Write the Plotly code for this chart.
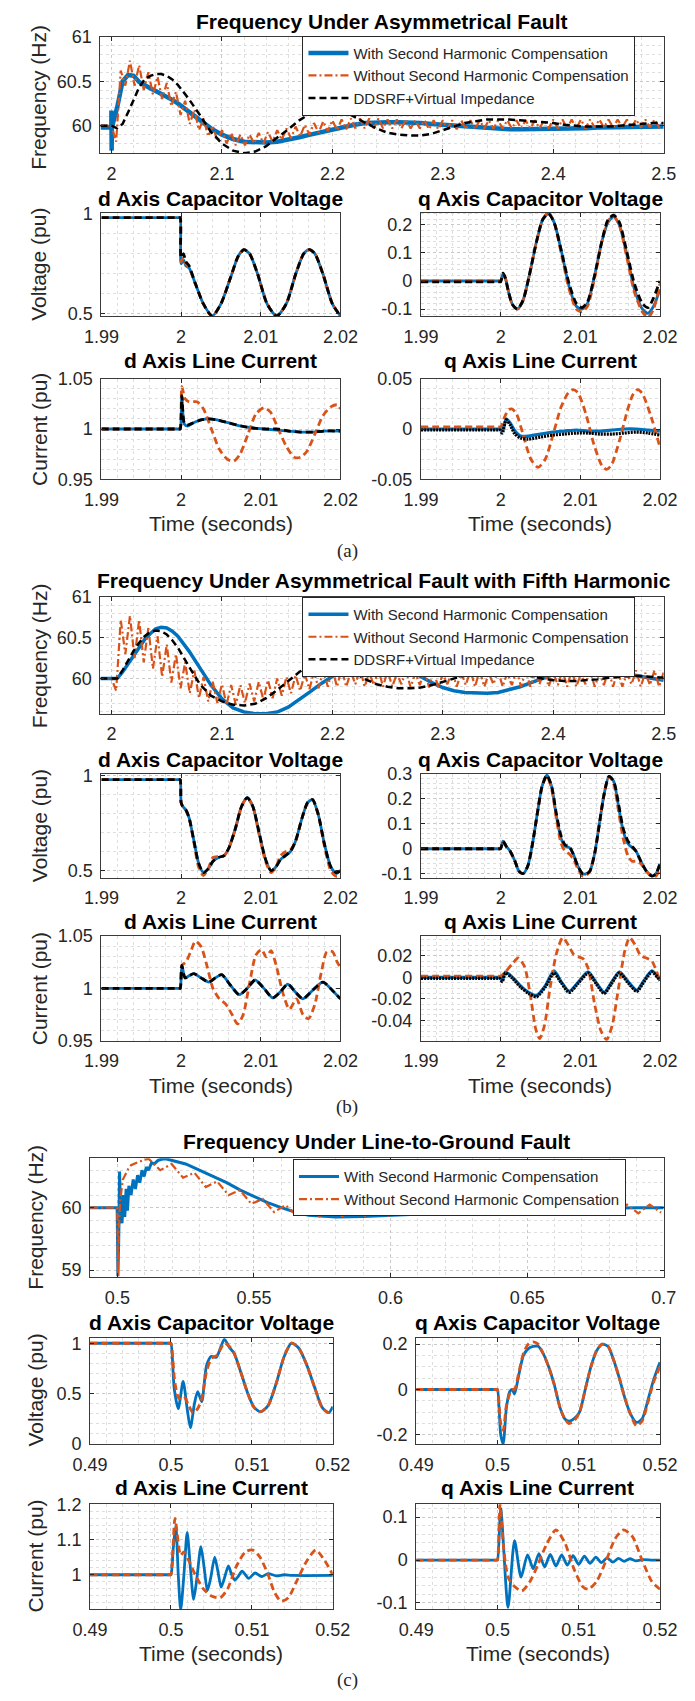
import plotly.graph_objects as go

BLUE = '#0072BD'
ORANGE = '#D95319'
BLACK = '#000000'
FONT = 'Liberation Sans, Arial, Helvetica, sans-serif'
TXT = '#262626'

# ---------------- Panel (a): asymmetrical fault ----------------
a_f_blue_t = [1.99, 1.9998, 1.9999, 2.0, 2.0001, 2.0003, 2.005, 2.01, 2.015, 2.02, 2.025, 2.03, 2.035, 2.04,
              2.045, 2.05, 2.055, 2.06, 2.07, 2.08, 2.09, 2.1, 2.11, 2.12, 2.13, 2.14, 2.15, 2.16, 2.17, 2.18,
              2.19, 2.2, 2.21, 2.22, 2.23, 2.24, 2.25, 2.26, 2.27, 2.28, 2.29, 2.3, 2.31, 2.32, 2.33, 2.34, 2.35,
              2.36, 2.37, 2.38, 2.39, 2.4, 2.41, 2.42, 2.43, 2.44, 2.45, 2.46, 2.47, 2.48, 2.49, 2.5]
a_f_blue = [59.98, 59.98, 60.17, 59.98, 59.72, 59.98, 60.2, 60.5, 60.57, 60.56, 60.49, 60.45, 60.42, 60.39,
            60.36, 60.33, 60.29, 60.25, 60.16, 60.06, 59.97, 59.9, 59.85, 59.82, 59.81, 59.81, 59.82, 59.84,
            59.87, 59.9, 59.93, 59.96, 59.99, 60.01, 60.03, 60.04, 60.04, 60.04, 60.04, 60.03, 60.02, 60.01,
            60.0, 59.99, 59.98, 59.97, 59.97, 59.96, 59.96, 59.96, 59.96, 59.96, 59.97, 59.97, 59.97, 59.98,
            59.98, 59.98, 59.99, 59.99, 59.99, 59.99]
# half-period (1/240 s) samples of the rippling orange trace, starting at 2.0 s
a_f_orange = [60.0, 59.82, 60.62, 60.45, 60.73, 60.45, 60.68, 60.4, 60.6, 60.35,
              60.55, 60.3, 60.48, 60.22, 60.38, 60.12, 60.28, 60.02, 60.18, 59.95,
              60.08, 59.88, 60.0, 59.83, 59.95, 59.8, 59.92, 59.78, 59.9, 59.78,
              59.9, 59.8, 59.92, 59.8, 59.93, 59.82, 59.95, 59.84, 59.97, 59.86,
              59.99, 59.88, 60.01, 59.9, 60.03, 59.92, 60.05, 59.94, 60.06, 59.95,
              60.07, 59.96, 60.08, 59.97, 60.08, 59.97, 60.08, 59.97, 60.08, 59.97,
              60.07, 59.97, 60.07, 59.97, 60.07, 59.97, 60.06, 59.97, 60.06, 59.96,
              60.06, 59.96, 60.06, 59.96, 60.06, 59.96, 60.06, 59.96, 60.06, 59.96,
              60.06, 59.97, 60.06, 59.97, 60.06, 59.97, 60.06, 59.97, 60.06, 59.97,
              60.06, 59.97, 60.06, 59.97, 60.06, 59.97, 60.07, 59.97, 60.07, 59.97,
              60.07, 59.97, 60.07, 59.97, 60.07, 59.98, 60.07, 59.98, 60.07, 59.98,
              60.07, 59.98, 60.07, 59.98, 60.07, 59.98, 60.07, 59.98, 60.07, 59.98,
              60.06]
f_grid_t = [1.99, 2.0, 2.005, 2.01, 2.015, 2.02, 2.025, 2.03, 2.035, 2.04, 2.045, 2.05, 2.055, 2.06, 2.07,
            2.08, 2.09, 2.1, 2.11, 2.12, 2.13, 2.14, 2.15, 2.16, 2.17, 2.18, 2.19, 2.2, 2.21, 2.22, 2.23,
            2.24, 2.25, 2.26, 2.27, 2.28, 2.29, 2.3, 2.31, 2.32, 2.33, 2.34, 2.35, 2.36, 2.37, 2.38, 2.39,
            2.4, 2.41, 2.42, 2.43, 2.44, 2.45, 2.46, 2.47, 2.48, 2.49, 2.5]
a_f_black = [60.0, 60.0, 59.97, 60.02, 60.15, 60.3, 60.43, 60.52, 60.56, 60.58, 60.58, 60.56, 60.52, 60.46,
             60.3, 60.12, 59.93, 59.8, 59.72, 59.69, 59.71, 59.77, 59.86, 59.96, 60.06, 60.14, 60.19, 60.19,
             60.16, 60.1, 60.03, 59.97, 59.92, 59.9, 59.89, 59.89, 59.91, 59.95, 59.99, 60.03, 60.05, 60.07,
             60.07, 60.07, 60.06, 60.05, 60.04, 60.03, 60.01, 60.0, 59.99, 59.99, 59.99, 60.0, 60.01, 60.02,
             60.03, 60.03]

a_dv_t = [1.99, 1.9998, 1.9999, 2.0, 2.0003, 2.0006, 2.001, 2.0018, 2.0028, 2.0039, 2.005, 2.0062, 2.0072,
          2.0079, 2.0086, 2.0096, 2.0108, 2.012, 2.0132, 2.0144, 2.0154, 2.0161, 2.0168, 2.0178, 2.019, 2.02]
a_dv_blue = [0.98, 0.98, 0.98, 0.75, 0.77, 0.74, 0.73, 0.65, 0.55, 0.49, 0.55, 0.68, 0.79, 0.82, 0.8, 0.7,
             0.55, 0.49, 0.55, 0.7, 0.8, 0.82, 0.8, 0.7, 0.55, 0.49]
a_dv_orange = [0.98, 0.98, 0.98, 0.76, 0.78, 0.75, 0.73, 0.65, 0.55, 0.488, 0.55, 0.68, 0.79, 0.82, 0.8, 0.7,
               0.55, 0.488, 0.55, 0.7, 0.8, 0.82, 0.8, 0.7, 0.55, 0.49]
a_dv_black = [0.98, 0.98, 0.98, 0.78, 0.8, 0.76, 0.74, 0.65, 0.55, 0.49, 0.55, 0.68, 0.79, 0.82, 0.8, 0.7,
              0.55, 0.49, 0.55, 0.7, 0.8, 0.82, 0.8, 0.7, 0.55, 0.49]

a_qv_t = [1.99, 1.9998, 2.0, 2.0003, 2.0006, 2.001, 2.0015, 2.0021, 2.0028, 2.0036, 2.0045, 2.0053, 2.006,
          2.0067, 2.0076, 2.0086, 2.0095, 2.0102, 2.0109, 2.0118, 2.0127, 2.0135, 2.0142, 2.0149, 2.0158,
          2.0168, 2.0178, 2.0185, 2.0192, 2.02]
a_qv_blue = [0.0, 0.0, 0.0, 0.025, 0.01, -0.04, -0.085, -0.1, -0.07, 0.02, 0.14, 0.22, 0.24, 0.21, 0.11, -0.02,
             -0.09, -0.1, -0.08, 0.02, 0.14, 0.21, 0.23, 0.2, 0.1, -0.03, -0.1, -0.115, -0.09, -0.03]
a_qv_orange = [0.0, 0.0, 0.0, 0.025, 0.01, -0.04, -0.085, -0.1, -0.07, 0.02, 0.14, 0.22, 0.245, 0.21, 0.1,
               -0.03, -0.1, -0.11, -0.09, 0.01, 0.14, 0.215, 0.23, 0.2, 0.09, -0.04, -0.11, -0.13, -0.1, -0.01]
a_qv_black = [-0.003, -0.003, -0.003, 0.028, 0.01, -0.04, -0.085, -0.1, -0.07, 0.02, 0.14, 0.22, 0.24, 0.21,
              0.11, -0.01, -0.08, -0.095, -0.075, 0.02, 0.14, 0.22, 0.235, 0.21, 0.11, -0.01, -0.08, -0.095,
              -0.06, 0.0]

a_di_t = [1.99, 1.9998, 1.9999, 2.0001, 2.0004, 2.0008, 2.0015, 2.0025, 2.0035, 2.0045, 2.006, 2.0075, 2.009,
          2.0105, 2.012, 2.0135, 2.015, 2.0165, 2.018, 2.02]
a_di_blue = [1.0, 1.0, 1.0, 1.032, 1.005, 1.003, 1.006, 1.009, 1.01, 1.009, 1.006, 1.003, 1.001, 1.0, 0.999,
             0.998, 0.997, 0.997, 0.998, 0.998]
a_di_black = [1.0, 1.0, 1.0, 1.033, 1.006, 1.004, 1.006, 1.009, 1.01, 1.009, 1.006, 1.003, 1.001, 1.0, 1.0,
              0.998, 0.997, 0.997, 0.998, 0.998]
a_di_or_t = [1.99, 1.9998, 1.9999, 2.0001, 2.0005, 2.001, 2.002, 2.0028, 2.0038, 2.0048, 2.0058, 2.0066, 2.0074,
             2.0084, 2.0094, 2.0104, 2.0112, 2.0122, 2.0132, 2.0142, 2.015, 2.0158, 2.0168, 2.0178, 2.0188,
             2.0196, 2.02]
a_di_orange = [1.0, 1.0, 1.0, 1.042, 1.03, 1.027, 1.027, 1.02, 1.0, 0.98, 0.97, 0.968, 0.975, 0.995, 1.015,
               1.021, 1.017, 1.0, 0.983, 0.972, 0.972, 0.978, 0.995, 1.013, 1.022, 1.024, 1.02]

a_qi_t = [1.99, 1.9998, 1.9999, 2.0002, 2.0007, 2.0012, 2.0018, 2.0025, 2.0035, 2.005, 2.0065, 2.008, 2.0095,
          2.011, 2.0125, 2.014, 2.0155, 2.017, 2.0185, 2.02]
a_qi_blue = [0.0, 0.0, 0.0, -0.002, 0.01, 0.006, -0.002, -0.007, -0.007, -0.005, -0.003, -0.002, -0.001,
             -0.002, -0.002, -0.001, 0.0, 0.0, -0.001, -0.002]
a_qi_black = [-0.001, -0.001, -0.001, -0.004, 0.009, 0.004, -0.005, -0.009, -0.01, -0.008, -0.006, -0.005,
              -0.004, -0.004, -0.005, -0.005, -0.004, -0.003, -0.004, -0.006]
a_qi_or_t = [1.99, 1.9998, 2.0, 2.0005, 2.001, 2.0014, 2.002, 2.0028, 2.0038, 2.0047, 2.0056, 2.0066, 2.0076,
             2.0085, 2.0091, 2.0097, 2.0107, 2.0117, 2.0127, 2.0133, 2.0139, 2.0149, 2.0159, 2.0166, 2.0172,
             2.0178, 2.0189, 2.02]
a_qi_orange = [0.002, 0.002, 0.002, 0.012, 0.019, 0.02, 0.015, -0.005, -0.03, -0.038, -0.03, -0.005, 0.022,
               0.036, 0.039, 0.036, 0.015, -0.015, -0.036, -0.04, -0.036, -0.012, 0.018, 0.034, 0.039, 0.035,
               0.012, -0.018]

# ---------------- Panel (b): asymmetrical fault with fifth harmonic ----------------
b_f_blue = [60.0, 60.0, 60.0, 60.08, 60.18, 60.29, 60.39, 60.48, 60.55, 60.61, 60.63, 60.62, 60.58, 60.52,
            60.34, 60.12, 59.92, 59.75, 59.64, 59.59, 59.57, 59.57, 59.59, 59.65, 59.74, 59.84, 59.94, 60.03,
            60.12, 60.2, 60.24, 60.25, 60.23, 60.18, 60.1, 60.02, 59.95, 59.89, 59.85, 59.83, 59.82, 59.82,
            59.83, 59.86, 59.9, 59.95, 60.0, 60.05, 60.08, 60.1, 60.11, 60.11, 60.1, 60.08, 60.05, 60.02,
            60.0, 59.98]
b_f_black = [60.0, 60.0, 60.0, 60.1, 60.22, 60.34, 60.44, 60.52, 60.57, 60.59, 60.58, 60.54, 60.47, 60.38,
             60.15, 59.93, 59.79, 59.72, 59.68, 59.67, 59.69, 59.76, 59.86, 59.97, 60.08, 60.16, 60.21, 60.2,
             60.15, 60.07, 59.99, 59.93, 59.9, 59.88, 59.88, 59.89, 59.92, 59.96, 60.0, 60.04, 60.07, 60.09,
             60.09, 60.08, 60.06, 60.03, 60.0, 59.98, 59.97, 59.97, 59.98, 59.99, 60.01, 60.02, 60.03, 60.03,
             60.02, 60.01]
b_f_orange = [60.0, 59.85, 60.72, 60.3, 60.77, 60.25, 60.72, 60.2, 60.62, 60.12,
              60.52, 60.02, 60.42, 59.95, 60.3, 59.88, 60.2, 59.82, 60.1, 59.76,
              60.02, 59.72, 59.96, 59.7, 59.93, 59.68, 59.92, 59.68, 59.92, 59.7,
              59.94, 59.72, 59.96, 59.74, 59.98, 59.76, 60.0, 59.79, 60.02, 59.82,
              60.04, 59.85, 60.06, 59.87, 60.08, 59.88, 60.1, 59.9, 60.11, 59.9,
              60.12, 59.9, 60.08, 59.93, 60.12, 59.9, 60.07, 59.92, 60.11, 59.9,
              60.1, 59.9, 60.06, 59.93, 60.1, 59.89, 60.07, 59.92, 60.1, 59.89,
              60.1, 59.89, 60.06, 59.93, 60.1, 59.9, 60.07, 59.92, 60.1, 59.9,
              60.1, 59.9, 60.06, 59.93, 60.1, 59.9, 60.07, 59.92, 60.1, 59.9,
              60.1, 59.9, 60.06, 59.93, 60.1, 59.9, 60.07, 59.92, 60.1, 59.9,
              60.1, 59.9, 60.06, 59.93, 60.1, 59.9, 60.07, 59.92, 60.1, 59.9,
              60.1, 59.9, 60.06, 59.93, 60.1, 59.9, 60.07, 59.92, 60.1, 59.9,
              60.08]

b_dv_t = [1.99, 1.9998, 1.9999, 2.0, 2.0002, 2.0006, 2.001, 2.0016, 2.0022, 2.0028, 2.0034, 2.004, 2.0047,
          2.0054, 2.006, 2.0068, 2.0076, 2.0083, 2.009, 2.0098, 2.0106, 2.0113, 2.0119, 2.0125, 2.0131, 2.0137,
          2.0144, 2.0152, 2.0159, 2.0165, 2.0172, 2.018, 2.0188, 2.0195, 2.02]
b_dv_blue = [0.98, 0.98, 0.98, 0.86, 0.84, 0.82, 0.78, 0.66, 0.54, 0.49, 0.51, 0.55, 0.57, 0.58, 0.62, 0.72,
             0.84, 0.885, 0.84, 0.7, 0.56, 0.5, 0.52, 0.56, 0.58, 0.6, 0.66, 0.78, 0.86, 0.875, 0.8, 0.64, 0.52,
             0.485, 0.5]
b_dv_orange = [0.98, 0.98, 0.98, 0.86, 0.84, 0.82, 0.78, 0.65, 0.52, 0.475, 0.51, 0.57, 0.575, 0.58, 0.62,
               0.72, 0.84, 0.885, 0.84, 0.69, 0.55, 0.49, 0.52, 0.58, 0.6, 0.61, 0.66, 0.78, 0.86, 0.875, 0.8,
               0.63, 0.5, 0.47, 0.475]
b_dv_black = [0.98, 0.98, 0.98, 0.86, 0.84, 0.82, 0.78, 0.66, 0.54, 0.49, 0.51, 0.55, 0.57, 0.58, 0.62, 0.72,
              0.84, 0.885, 0.84, 0.7, 0.56, 0.5, 0.52, 0.56, 0.58, 0.6, 0.66, 0.78, 0.86, 0.875, 0.8, 0.64,
              0.52, 0.49, 0.5]

b_qv_t = [1.99, 1.9998, 2.0, 2.0003, 2.0007, 2.0012, 2.0018, 2.0023, 2.0028, 2.0034, 2.004, 2.0046, 2.0052,
          2.0058, 2.0064, 2.007, 2.0076, 2.0081, 2.0086, 2.0091, 2.0097, 2.0103, 2.0108, 2.0112, 2.0118, 2.0124,
          2.013, 2.0136, 2.0142, 2.0148, 2.0154, 2.016, 2.0165, 2.017, 2.0176, 2.0183, 2.019, 2.0195, 2.02]
b_qv_blue = [0.0, 0.0, 0.0, 0.03, 0.01, -0.01, -0.05, -0.09, -0.1, -0.07, 0.02, 0.14, 0.25, 0.295, 0.25, 0.13,
             0.04, 0.01, 0.005, -0.02, -0.07, -0.1, -0.1, -0.09, -0.02, 0.1, 0.22, 0.29, 0.27, 0.17, 0.07,
             0.02, 0.005, -0.01, -0.05, -0.09, -0.11, -0.1, -0.06]
b_qv_orange = [0.0, 0.0, 0.0, 0.03, 0.01, -0.01, -0.05, -0.09, -0.1, -0.07, 0.02, 0.14, 0.25, 0.29, 0.24,
               0.12, 0.02, -0.01, -0.02, -0.04, -0.08, -0.11, -0.105, -0.09, -0.02, 0.1, 0.22, 0.29, 0.26,
               0.15, 0.04, -0.03, -0.05, -0.05, -0.06, -0.09, -0.11, -0.11, -0.08]
b_qv_black = [0.0, 0.0, 0.0, 0.03, 0.01, -0.01, -0.05, -0.09, -0.1, -0.07, 0.02, 0.14, 0.25, 0.295, 0.25, 0.14,
              0.05, 0.015, 0.01, -0.02, -0.07, -0.1, -0.1, -0.09, -0.02, 0.1, 0.22, 0.29, 0.27, 0.18, 0.08,
              0.03, 0.01, -0.01, -0.05, -0.09, -0.11, -0.1, -0.06]

b_di_t = [1.99, 1.9998, 1.9999, 2.0001, 2.0005, 2.001, 2.0016, 2.0025, 2.0035, 2.0043, 2.0051, 2.0062, 2.0073,
          2.0083, 2.0093, 2.0104, 2.0115, 2.0125, 2.0134, 2.0144, 2.0153, 2.0165, 2.0178, 2.019, 2.02]
b_di_blue = [1.0, 1.0, 1.0, 1.022, 1.01, 1.012, 1.014, 1.01, 1.006, 1.01, 1.013, 1.003, 0.994, 1.0, 1.008, 1.0,
             0.991, 0.997, 1.004, 0.996, 0.99, 0.998, 1.006, 0.998, 0.99]
b_di_black = [1.0, 1.0, 1.0, 1.022, 1.01, 1.012, 1.014, 1.01, 1.006, 1.01, 1.013, 1.003, 0.994, 1.0, 1.008, 1.0,
              0.991, 0.997, 1.004, 0.996, 0.99, 0.998, 1.006, 0.998, 0.99]
b_di_or_t = [1.99, 1.9998, 1.9999, 2.0001, 2.0006, 2.0012, 2.0018, 2.0025, 2.0033, 2.004, 2.0048, 2.0056,
             2.0064, 2.0071, 2.0078, 2.0086, 2.0094, 2.0101, 2.0107, 2.0113, 2.012, 2.0128, 2.0136, 2.0145,
             2.0153, 2.016, 2.0168, 2.0176, 2.0183, 2.019, 2.0196, 2.02]
b_di_orange = [1.0, 1.0, 1.0, 1.022, 1.025, 1.035, 1.045, 1.04, 1.02, 1.0, 0.99, 0.985, 0.975, 0.966, 0.975,
               1.005, 1.032, 1.037, 1.03, 1.036, 1.02, 0.995, 0.98, 0.99, 0.975, 0.971, 0.985, 1.015, 1.035,
               1.035, 1.025, 1.02]

b_qi_t = [1.99, 1.9998, 1.9999, 2.0002, 2.0006, 2.0015, 2.0025, 2.0035, 2.0045, 2.0056, 2.0067, 2.0076, 2.0086,
          2.0098, 2.011, 2.012, 2.013, 2.0139, 2.0149, 2.016, 2.0171, 2.018, 2.019, 2.02]
b_qi_blue = [0.0, 0.0, 0.0, -0.003, 0.005, 0.0, -0.008, -0.014, -0.017, -0.008, 0.006, -0.004, -0.013, -0.004,
             0.005, -0.005, -0.014, -0.005, 0.005, -0.004, -0.012, -0.003, 0.006, -0.002]
b_qi_black = [-0.001, -0.001, -0.001, -0.004, 0.004, -0.001, -0.009, -0.015, -0.018, -0.009, 0.004, -0.005,
              -0.014, -0.005, 0.004, -0.006, -0.015, -0.006, 0.004, -0.005, -0.013, -0.004, 0.005, -0.003]
b_qi_or_t = [1.99, 1.9998, 2.0, 2.0006, 2.0014, 2.0022, 2.003, 2.0038, 2.0044, 2.0049, 2.0055, 2.0062, 2.007,
             2.0078, 2.0085, 2.0092, 2.0098, 2.0104, 2.011, 2.0118, 2.0126, 2.0133, 2.014, 2.0148, 2.0156,
             2.0162, 2.0169, 2.0176, 2.0183, 2.019, 2.0196, 2.02]
b_qi_orange = [0.001, 0.001, 0.001, 0.005, 0.012, 0.018, 0.01, -0.02, -0.048, -0.057, -0.045, -0.01, 0.022,
               0.037, 0.03, 0.021, 0.019, 0.017, 0.008, -0.025, -0.05, -0.058, -0.045, -0.01, 0.025, 0.037,
               0.03, 0.02, 0.018, 0.015, 0.005, -0.003]

# ---------------- Panel (c): line-to-ground fault ----------------
c_f_blue_t = [0.49, 0.4999, 0.5, 0.5002, 0.5005, 0.5008, 0.5012, 0.5017, 0.5022, 0.5027, 0.5032, 0.5037, 0.5042,
              0.505, 0.5058, 0.5066, 0.5074, 0.5082, 0.509, 0.5098, 0.5106, 0.5114, 0.5125, 0.5135, 0.515,
              0.5165, 0.518, 0.52, 0.525, 0.53, 0.535, 0.54, 0.545, 0.55, 0.555, 0.56, 0.565, 0.57, 0.575, 0.58,
              0.59, 0.6, 0.61, 0.62, 0.63, 0.64, 0.65, 0.66, 0.67, 0.68, 0.69, 0.7]
c_f_blue = [60.0, 60.0, 59.7, 58.9, 59.5, 60.58, 59.9, 59.75, 60.2, 59.85, 60.3, 59.95, 60.35, 60.2, 60.45,
            60.3, 60.52, 60.4, 60.6, 60.5, 60.65, 60.6, 60.72, 60.7, 60.76, 60.78, 60.78, 60.76, 60.7, 60.6,
            60.5, 60.4, 60.28, 60.18, 60.08, 60.0, 59.93, 59.88, 59.86, 59.85, 59.86, 59.88, 59.9, 59.92, 59.94,
            59.96, 59.97, 59.98, 59.99, 59.99, 60.0, 60.0]
c_f_or_head_t = [0.49, 0.4999, 0.5, 0.5002, 0.5005, 0.501, 0.502, 0.503, 0.504, 0.505, 0.506, 0.507, 0.508,
                 0.509, 0.51, 0.5115]
c_f_or_head = [60.0, 60.0, 59.9, 58.9, 59.6, 60.1, 60.45, 60.55, 60.62, 60.68, 60.7, 60.73, 60.74, 60.75,
               60.77, 60.78]
# half-period (1/240 s) samples of the ripple, starting at 0.5157 s
c_f_or_ripple = [60.6, 60.7, 60.48, 60.56, 60.33, 60.42, 60.2, 60.28, 60.06, 60.14,
                 59.93, 60.04, 59.87, 60.02, 59.86, 60.02, 59.86, 60.02, 59.87, 60.03,
                 59.87, 60.03, 59.88, 60.04, 59.88, 60.04, 59.89, 60.04, 59.89, 60.05,
                 59.9, 60.05, 59.9, 60.05, 59.9, 60.05, 59.91, 60.05, 59.91, 60.05,
                 59.91, 60.05, 59.91, 60.05, 59.92]

c_dv_b_t = [0.49, 0.4999, 0.5, 0.5004, 0.5009, 0.5015, 0.502, 0.5024, 0.5029, 0.5033, 0.5038, 0.5044, 0.505,
            0.5056, 0.5061, 0.5066, 0.5072, 0.5078, 0.5086, 0.5095, 0.5103, 0.5111, 0.512, 0.513, 0.514, 0.5149,
            0.5158, 0.5168, 0.5178, 0.5187, 0.5195, 0.52]
c_dv_blue = [1.0, 1.0, 1.0, 0.55, 0.35, 0.62, 0.35, 0.16, 0.4, 0.52, 0.42, 0.78, 0.87, 0.86, 0.95, 1.04, 0.96,
             0.9, 0.72, 0.5, 0.36, 0.32, 0.38, 0.6, 0.87, 1.0, 0.95, 0.78, 0.55, 0.36, 0.31, 0.37]
c_dv_o_t = [0.49, 0.4999, 0.5, 0.5005, 0.501, 0.5016, 0.5021, 0.5027, 0.5033, 0.5038, 0.5044, 0.505, 0.5057,
            0.5066, 0.5072, 0.5078, 0.5086, 0.5095, 0.5103, 0.5111, 0.512, 0.513, 0.514, 0.5149, 0.5158, 0.5168,
            0.5178, 0.5187, 0.5195, 0.52]
c_dv_orange = [1.0, 1.0, 1.0, 0.6, 0.45, 0.47, 0.4, 0.31, 0.35, 0.45, 0.72, 0.85, 0.88, 1.0, 0.97, 0.9, 0.72,
               0.5, 0.36, 0.32, 0.38, 0.6, 0.87, 1.0, 0.95, 0.78, 0.55, 0.36, 0.31, 0.34]

c_qv_t = [0.49, 0.4999, 0.5, 0.5004, 0.5007, 0.5011, 0.5015, 0.5018, 0.5021, 0.5026, 0.5032, 0.5038, 0.5044,
          0.505, 0.5056, 0.5063, 0.507, 0.5077, 0.5083, 0.5088, 0.5094, 0.5101, 0.5108, 0.5115, 0.5122, 0.5129,
          0.5136, 0.5143, 0.515, 0.5157, 0.5164, 0.5171, 0.5178, 0.5185, 0.5192, 0.52]
c_qv_blue = [0.0, 0.0, 0.0, -0.2, -0.24, -0.08, -0.01, 0.0, -0.02, 0.06, 0.15, 0.18, 0.19, 0.19, 0.16, 0.1,
             0.02, -0.08, -0.13, -0.14, -0.13, -0.1, 0.0, 0.1, 0.17, 0.2, 0.19, 0.13, 0.05, -0.04, -0.11,
             -0.145, -0.13, -0.05, 0.04, 0.12]
c_qv_orange = [0.0, 0.0, 0.0, -0.15, -0.18, -0.07, -0.02, 0.0, 0.0, 0.07, 0.16, 0.2, 0.21, 0.2, 0.16, 0.1,
               0.02, -0.08, -0.13, -0.15, -0.14, -0.1, 0.0, 0.1, 0.17, 0.2, 0.19, 0.13, 0.05, -0.04, -0.11,
               -0.16, -0.14, -0.06, 0.03, 0.1]

c_di_b_t = [0.49, 0.4999, 0.5, 0.5003, 0.5006, 0.5009, 0.5012, 0.5016, 0.502, 0.5024, 0.5028, 0.5032, 0.5037,
            0.5041, 0.5045, 0.5049, 0.5054, 0.5058, 0.5062, 0.5066, 0.5071, 0.5075, 0.5079, 0.5083, 0.5088,
            0.5096, 0.5104, 0.5112, 0.512, 0.513, 0.514, 0.515, 0.52]
c_di_blue = [1.0, 1.0, 1.0, 1.08, 1.14, 1.0, 0.9, 1.0, 1.12, 1.02, 0.93, 0.99, 1.08, 1.02, 0.955, 0.99, 1.05,
             1.01, 0.965, 0.99, 1.025, 1.0, 0.985, 0.995, 1.01, 0.99, 1.005, 0.995, 1.003, 0.997, 1.0, 0.998,
             0.998]
c_di_o_t = [0.49, 0.4999, 0.5, 0.5005, 0.5012, 0.5016, 0.5022, 0.503, 0.504, 0.505, 0.5061, 0.507, 0.508,
            0.5092, 0.5101, 0.511, 0.512, 0.5128, 0.5136, 0.5145, 0.5155, 0.5168, 0.5179, 0.519, 0.52]
c_di_orange = [1.0, 1.0, 1.0, 1.16, 1.055, 1.065, 1.04, 1.0, 0.96, 0.94, 0.935, 0.96, 1.02, 1.065, 1.07, 1.05,
               1.0, 0.95, 0.925, 0.935, 0.98, 1.04, 1.07, 1.04, 1.0]

c_qi_b_t = [0.49, 0.4999, 0.5, 0.5004, 0.5013, 0.5021, 0.5029, 0.5037, 0.5044, 0.5051, 0.5058, 0.5065, 0.5072,
            0.5079, 0.5086, 0.5093, 0.51, 0.5107, 0.5114, 0.5121, 0.5128, 0.5135, 0.5142, 0.5149, 0.5156,
            0.5163, 0.517, 0.518, 0.519, 0.52]
c_qi_blue = [0.0, 0.0, 0.0, 0.12, -0.11, 0.045, -0.04, 0.012, -0.02, 0.015, -0.016, 0.013, -0.014, 0.012,
             -0.012, 0.01, -0.01, 0.009, -0.008, 0.007, -0.006, 0.005, -0.005, 0.004, -0.003, 0.003, -0.002,
             0.001, 0.0, 0.0]
c_qi_o_t = [0.49, 0.4999, 0.5, 0.5003, 0.5008, 0.5013, 0.502, 0.503, 0.504, 0.505, 0.506, 0.5072, 0.5083,
            0.5094, 0.5105, 0.5112, 0.5122, 0.5134, 0.5145, 0.5155, 0.5166, 0.5178, 0.519, 0.52]
c_qi_orange = [0.0, 0.0, 0.0, 0.13, 0.02, -0.04, -0.06, -0.072, -0.05, -0.01, 0.035, 0.07, 0.04, -0.02,
               -0.062, -0.068, -0.05, 0.0, 0.05, 0.07, 0.055, 0.0, -0.05, -0.068]

LEG_NAMES = ['With Second Harmonic Compensation', 'Without Second Harmonic Compensation',
             'DDSRF+Virtual Impedance']

# ripple sample clocks (time axis only)
a_f_orange_t = [1.99] + [2.0 + k / 240 for k in range(len(a_f_orange))]
a_f_orange_v = [60.0] + a_f_orange
b_f_orange_t = [1.99] + [2.0 + k / 240 for k in range(len(b_f_orange))]
b_f_orange_v = [60.0] + b_f_orange
c_f_orange_t = c_f_or_head_t + [0.5157 + k / 240 for k in range(len(c_f_or_ripple))]
c_f_orange_v = c_f_or_head + c_f_or_ripple

# ---------------- figure ----------------
W, H = 695, 1701
fig = go.Figure()


def ref(i):
    return ('x' if i == 1 else f'x{i}'), ('y' if i == 1 else f'y{i}')


def add(i, x, y, color, dash, width, spline=False, name=None, legend=None):
    xr, yr = ref(i)
    line = dict(color=color, dash=dash, width=width)
    if spline:
        line.update(shape='spline', smoothing=0.7)
    kw = dict(x=x, y=y, mode='lines', line=line, xaxis=xr, yaxis=yr, hoverinfo='skip')
    if name:
        kw.update(name=name, showlegend=True, legend=legend)
    else:
        kw.update(showlegend=False)
    fig.add_trace(go.Scatter(**kw))


DD = '7px,4px'
DDOT = '8px,3px,2px,3px'

# (a)
add(1, a_f_blue_t, a_f_blue, BLUE, 'solid', 4.5, name=LEG_NAMES[0], legend='legend')
add(1, a_f_orange_t, a_f_orange_v, ORANGE, DDOT, 2.2, name=LEG_NAMES[1], legend='legend')
add(1, f_grid_t, a_f_black, BLACK, DD, 2.5, name=LEG_NAMES[2], legend='legend')
add(2, a_dv_t, a_dv_blue, BLUE, 'solid', 2.8, True)
add(2, a_dv_t, a_dv_orange, ORANGE, DD, 2.8, True)
add(2, a_dv_t, a_dv_black, BLACK, DD, 2.8, True)
add(3, a_qv_t, a_qv_blue, BLUE, 'solid', 2.8, True)
add(3, a_qv_t, a_qv_orange, ORANGE, DD, 2.8, True)
add(3, a_qv_t, a_qv_black, BLACK, DD, 2.8, True)
add(4, a_di_t, a_di_blue, BLUE, 'solid', 2.8, True)
add(4, a_di_or_t, a_di_orange, ORANGE, DD, 2.8, True)
add(4, a_di_t, a_di_black, BLACK, DD, 2.8, True)
add(5, a_qi_t, a_qi_blue, BLUE, 'solid', 3.2, True)
add(5, a_qi_or_t, a_qi_orange, ORANGE, DD, 2.8, True)
add(5, a_qi_t, a_qi_black, BLACK, '2px,1px', 3.2, True)
# (b)
add(6, f_grid_t, b_f_blue, BLUE, 'solid', 3.5, name=LEG_NAMES[0], legend='legend2')
add(6, b_f_orange_t, b_f_orange_v, ORANGE, DDOT, 2.2, name=LEG_NAMES[1], legend='legend2')
add(6, f_grid_t, b_f_black, BLACK, DD, 2.5, name=LEG_NAMES[2], legend='legend2')
add(7, b_dv_t, b_dv_blue, BLUE, 'solid', 2.8, True)
add(7, b_dv_t, b_dv_orange, ORANGE, DD, 2.8, True)
add(7, b_dv_t, b_dv_black, BLACK, DD, 2.8, True)
add(8, b_qv_t, b_qv_blue, BLUE, 'solid', 2.8, True)
add(8, b_qv_t, b_qv_orange, ORANGE, DD, 2.8, True)
add(8, b_qv_t, b_qv_black, BLACK, DD, 2.8, True)
add(9, b_di_t, b_di_blue, BLUE, 'solid', 2.8, True)
add(9, b_di_or_t, b_di_orange, ORANGE, DD, 2.8, True)
add(9, b_di_t, b_di_black, BLACK, DD, 2.8, True)
add(10, b_qi_t, b_qi_blue, BLUE, 'solid', 3.2, True)
add(10, b_qi_or_t, b_qi_orange, ORANGE, DD, 2.8, True)
add(10, b_qi_t, b_qi_black, BLACK, '2px,1px', 3.2, True)
# (c)
add(11, c_f_blue_t, c_f_blue, BLUE, 'solid', 3.0, name=LEG_NAMES[0], legend='legend3')
add(11, c_f_orange_t, c_f_orange_v, ORANGE, DDOT, 2.2, name=LEG_NAMES[1], legend='legend3')
add(12, c_dv_b_t, c_dv_blue, BLUE, 'solid', 2.8, True)
add(12, c_dv_o_t, c_dv_orange, ORANGE, DD, 2.8, True)
add(13, c_qv_t, c_qv_blue, BLUE, 'solid', 2.8, True)
add(13, c_qv_t, c_qv_orange, ORANGE, DD, 2.8, True)
add(14, c_di_b_t, c_di_blue, BLUE, 'solid', 2.8, True)
add(14, c_di_o_t, c_di_orange, ORANGE, DD, 2.8, True)
add(15, c_qi_b_t, c_qi_blue, BLUE, 'solid', 2.8, True)
add(15, c_qi_o_t, c_qi_orange, ORANGE, DD, 2.8, True)

TICK = 18


def xd(l, r):
    return [l / W, r / W]


def yd(t, b):
    return [1 - b / H, 1 - t / H]


def axis(domain, rng, vals, texts, mdt, m0, anchor):
    return dict(domain=domain, range=rng, tickmode='array', tickvals=vals, ticktext=texts,
                ticks='inside', ticklen=4, tickcolor=TXT, showline=True, mirror='ticks',
                linecolor='#3a3a3a', linewidth=1, showgrid=True, gridcolor='#c9c9c9', griddash='dot',
                gridwidth=1, zeroline=False, anchor=anchor, fixedrange=True,
                tickfont=dict(family=FONT, size=TICK, color=TXT), ticklabelstandoff=4,
                minor=dict(tickmode='linear', tick0=m0, dtick=mdt, showgrid=True, gridcolor='#dedede',
                           griddash='dot', gridwidth=1, ticks=''))


x_sub = [1.99, 2.0, 2.01, 2.02]
x_sub_t = ['1.99', '2', '2.01', '2.02']
x_f = [2.0, 2.1, 2.2, 2.3, 2.4, 2.5]
x_f_t = ['2', '2.1', '2.2', '2.3', '2.4', '2.5']
x_c = [0.49, 0.5, 0.51, 0.52]
x_c_t = ['0.49', '0.5', '0.51', '0.52']
x_cf = [0.5, 0.55, 0.6, 0.65, 0.7]
x_cf_t = ['0.5', '0.55', '0.6', '0.65', '0.7']

# geometry (px): x-extents, y-extents
A_L, A_R = (88, 340), (425, 677)
C_L, C_R = (76, 332), (420, 677)
specs = {
    1: (xd(87, 681), yd(27, 145), [1.99, 2.5], x_f, x_f_t, 0.02, 2.0,
        [59.69, 61.0], [60, 60.5, 61], ['60', '60.5', '61'], 0.1, 60),
    2: (xd(*A_L), yd(205, 310), [1.99, 2.02], x_sub, x_sub_t, 0.002, 2.0,
        [0.488, 1.005], [0.5, 1], ['0.5', '1'], 0.1, 0),
    3: (xd(*A_R), yd(205, 310), [1.99, 2.02], x_sub, x_sub_t, 0.002, 2.0,
        [-0.126, 0.244], [-0.1, 0, 0.1, 0.2], ['-0.1', '0', '0.1', '0.2'], 0.02, 0),
    4: (xd(*A_L), yd(373, 475), [1.99, 2.02], x_sub, x_sub_t, 0.002, 2.0,
        [0.95, 1.05], [0.95, 1, 1.05], ['0.95', '1', '1.05'], 0.01, 0),
    5: (xd(*A_R), yd(373, 475), [1.99, 2.02], x_sub, x_sub_t, 0.002, 2.0,
        [-0.05, 0.05], [-0.05, 0, 0.05], ['-0.05', '0', '0.05'], 0.01, 0),
    6: (xd(87, 681), yd(594, 712), [1.99, 2.5], x_f, x_f_t, 0.02, 2.0,
        [59.57, 61.0], [60, 60.5, 61], ['60', '60.5', '61'], 0.1, 60),
    7: (xd(*A_L), yd(773, 878), [1.99, 2.02], x_sub, x_sub_t, 0.002, 2.0,
        [0.4635, 1.0104], [0.5, 1], ['0.5', '1'], 0.1, 0),
    8: (xd(*A_R), yd(773, 878), [1.99, 2.02], x_sub, x_sub_t, 0.002, 2.0,
        [-0.116, 0.3], [-0.1, 0, 0.1, 0.2, 0.3], ['-0.1', '0', '0.1', '0.2', '0.3'], 0.02, 0),
    9: (xd(*A_L), yd(937, 1043), [1.99, 2.02], x_sub, x_sub_t, 0.002, 2.0,
        [0.95, 1.05], [0.95, 1, 1.05], ['0.95', '1', '1.05'], 0.01, 0),
    10: (xd(*A_R), yd(937, 1043), [1.99, 2.02], x_sub, x_sub_t, 0.002, 2.0,
         [-0.059, 0.0385], [-0.04, -0.02, 0, 0.02], ['-0.04', '-0.02', '0', '0.02'], 0.005, 0),
    11: (xd(76, 681), yd(1162, 1282), [0.49, 0.7], x_cf, x_cf_t, 0.01, 0.5,
         [58.89, 60.79], [59, 60], ['59', '60'], 0.2, 59),
    12: (xd(*C_L), yd(1344, 1451), [0.49, 0.52], x_c, x_c_t, 0.002, 0.5,
         [0.0, 1.05], [0, 0.5, 1], ['0', '0.5', '1'], 0.1, 0),
    13: (xd(*C_R), yd(1344, 1451), [0.49, 0.52], x_c, x_c_t, 0.002, 0.5,
         [-0.24, 0.226], [-0.2, 0, 0.2], ['-0.2', '0', '0.2'], 0.05, 0),
    14: (xd(*C_L), yd(1512, 1618), [0.49, 0.52], x_c, x_c_t, 0.002, 0.5,
         [0.903, 1.2], [1, 1.1, 1.2], ['1', '1.1', '1.2'], 0.02, 0),
    15: (xd(*C_R), yd(1512, 1618), [0.49, 0.52], x_c, x_c_t, 0.002, 0.5,
         [-0.114, 0.13], [-0.1, 0, 0.1], ['-0.1', '0', '0.1'], 0.02, 0),
}

lay = {}
for i, s in specs.items():
    xdom, ydom, xr, xv, xt, xm, x0, yr, yv, yt, ym, y0 = s
    xr_name, yr_name = ref(i)
    lay['xaxis' if i == 1 else f'xaxis{i}'] = axis(xdom, xr, xv, xt, xm, x0, yr_name)
    lay['yaxis' if i == 1 else f'yaxis{i}'] = axis(ydom, yr, yv, yt, ym, y0, xr_name)

ann = []


def text(x, y, s, size, bold=False, angle=0, family=FONT):
    ann.append(dict(x=x / W, y=1 - y / H, xref='paper', yref='paper', text=f'<b>{s}</b>' if bold else s,
                    showarrow=False, textangle=angle, xanchor='center', yanchor='middle',
                    font=dict(family=family, size=size, color='#000000' if bold else TXT)))


TS = 21
# titles
text(384, 12, 'Frequency Under Asymmetrical Fault', TS, True)
text(214, 191, 'd Axis Capacitor Voltage', TS, True)
text(551, 191, 'q Axis Capacitor Voltage', TS, True)
text(214, 355, 'd Axis Line Current', TS, True)
text(551, 355, 'q Axis Line Current', TS, True)
text(386, 577, 'Frequency Under Asymmetrical Fault with Fifth Harmonic', TS, True)
text(214, 758, 'd Axis Capacitor Voltage', TS, True)
text(551, 758, 'q Axis Capacitor Voltage', TS, True)
text(214, 922, 'd Axis Line Current', TS, True)
text(551, 922, 'q Axis Line Current', TS, True)
text(378, 1145, 'Frequency Under Line-to-Ground Fault', TS, True)
text(204, 1328, 'd Axis Capacitor Voltage', TS, True)
text(548, 1328, 'q Axis Capacitor Voltage', TS, True)
text(204, 1495, 'd Axis Line Current', TS, True)
text(548, 1495, 'q Axis Line Current', TS, True)
# y labels
LS = 21
text(22, 88, 'Frequency (Hz)', LS, angle=-90)
text(22, 257, 'Voltage (pu)', LS, angle=-90)
text(22, 424, 'Current (pu)', LS, angle=-90)
text(22, 653, 'Frequency (Hz)', LS, angle=-90)
text(22, 825, 'Voltage (pu)', LS, angle=-90)
text(22, 990, 'Current (pu)', LS, angle=-90)
text(19, 1222, 'Frequency (Hz)', LS, angle=-90)
text(19, 1397, 'Voltage (pu)', LS, angle=-90)
text(19, 1565, 'Current (pu)', LS, angle=-90)
# x labels
text(214, 520, 'Time (seconds)', LS)
text(551, 520, 'Time (seconds)', LS)
text(214, 1088, 'Time (seconds)', LS)
text(551, 1088, 'Time (seconds)', LS)
text(204, 1663, 'Time (seconds)', LS)
text(548, 1663, 'Time (seconds)', LS)
# captions
SERIF = 'Liberation Serif, Times New Roman, serif'
text(347, 547, '(a)', 19, family=SERIF)
text(347, 1110, '(b)', 19, family=SERIF)
text(347, 1690, '(c)', 19, family=SERIF)


def legend(x, y, w):
    return dict(x=x / W, y=1 - y / H, xanchor='left', yanchor='top', bgcolor='white', bordercolor=TXT,
                borderwidth=1, font=dict(family=FONT, size=15, color=TXT), tracegroupgap=0,
                itemwidth=40, entrywidth=w, entrywidthmode='pixels')


fig.update_layout(width=W, height=H, margin=dict(l=0, r=0, t=0, b=0), paper_bgcolor='white',
                  plot_bgcolor='white', annotations=ann, showlegend=True,
                  legend=legend(300, 26, 330), legend2=legend(300, 594, 330),
                  legend3=legend(290, 1163, 340), **lay)

fig.write_html('out.html')
